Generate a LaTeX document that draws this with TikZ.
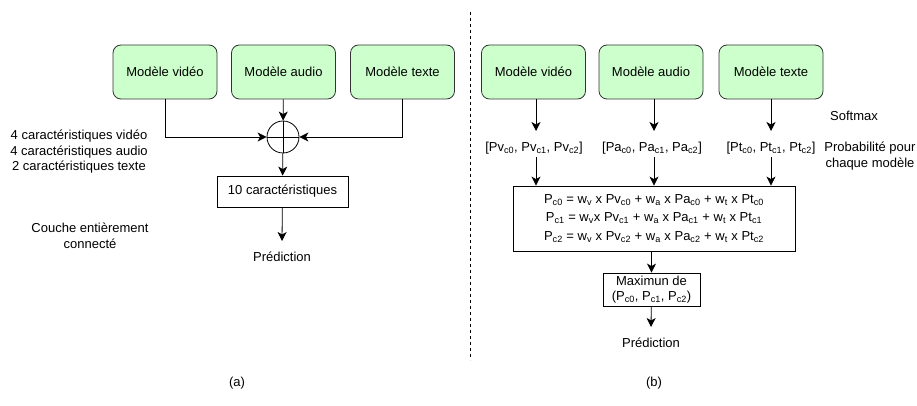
\documentclass[tikz,border=0pt]{standalone}
\usepackage{fontspec}
\setmainfont{Liberation Sans}
\usetikzlibrary{arrows.meta,positioning}
\definecolor{boxgreen}{HTML}{CCFFCC}
\tikzset{
  every node/.style={font=\fontsize{13}{15.5}\selectfont, inner sep=0pt},
  model/.style={draw=black!80, fill=boxgreen, rounded corners=8pt, minimum width=104pt, minimum height=54pt, line width=0.8pt},
  plainbox/.style={draw=black, line width=0.8pt},
  arr/.style={-{Stealth[length=9pt,width=9pt,inset=2.5pt]}, line width=0.8pt},
  ln/.style={line width=0.8pt},
}
\begin{document}
\begin{tikzpicture}[x=1pt,y=-1pt]
\useasboundingbox (0,0) rectangle (917,406);
% left panel
\node[model] (lv) at (165,72) {Modèle vidéo};
\node[model] (la) at (283.5,72) {Modèle audio};
\node[model] (lt) at (402.5,72) {Modèle texte};
\node[draw, circle, ln, minimum size=32pt] (sum) at (283,137) {};
\draw[ln] (sum.north) -- (sum.south) (sum.west) -- (sum.east);
\node[plainbox, minimum width=131pt, minimum height=31pt] (feat) at (282.5,191.5) {10 caractéristiques};
\node (lpred) at (282,257) {Prédiction};
\coordinate (lpend) at (282,241);
\draw[arr] (la) -- (sum);
\draw[arr] (lv.south) |- (sum.west);
\draw[arr] (lt.south) |- (sum.east);
\draw[arr] (sum) -- (feat);
\draw[arr] (feat) -- (lpend);
\node[align=center] (lfeat) at (79,152) {4 caractéristiques vidéo\\4 caractéristiques audio\\2 caractéristiques texte};
\node[align=center] (lfc) at (90,236) {Couche entièrement\\connecté};
% divider
\coordinate (dtop) at (470.5,12);
\coordinate (dbot) at (470.5,360);
\draw[line width=0.8pt, dash pattern=on 3pt off 3pt] (dtop) -- (dbot);
% right panel
\node[model] (rv) at (533.5,72) {Modèle vidéo};
\node[model] (ra) at (651,72) {Modèle audio};
\node[model] (rt) at (771,72) {Modèle texte};
\node (pv) at (534,148) {[Pv\textsubscript{c0}, Pv\textsubscript{c1}, Pv\textsubscript{c2}]};
\node (pa) at (652,148) {[Pa\textsubscript{c0}, Pa\textsubscript{c1}, Pa\textsubscript{c2}]};
\node (pt) at (771,148) {[Pt\textsubscript{c0}, Pt\textsubscript{c1}, Pt\textsubscript{c2}]};
\coordinate (pvin) at (536,131);
\coordinate (pain) at (654,131);
\coordinate (ptin) at (771,131);
\draw[arr] (rv.south -| pvin) -- (pvin);
\draw[arr] (ra.south -| pain) -- (pain);
\draw[arr] (rt.south -| ptin) -- (ptin);
\node (soft) at (854,116) {Softmax};
\node[align=center] (prob) at (870,156) {Probabilité pour\\chaque modèle};
\node[plainbox, minimum width=282pt, minimum height=65pt, align=center] (eq) at (654,218.5) {%
P\textsubscript{c0} = w\textsubscript{v} x Pv\textsubscript{c0} + w\textsubscript{a} x Pa\textsubscript{c0} + w\textsubscript{t} x Pt\textsubscript{c0}\\[3pt]
P\textsubscript{c1} = w\textsubscript{v}x Pv\textsubscript{c1} + w\textsubscript{a} x Pa\textsubscript{c1} + w\textsubscript{t} x Pt\textsubscript{c1}\\[3pt]
P\textsubscript{c2} = w\textsubscript{v} x Pv\textsubscript{c2} + w\textsubscript{a} x Pa\textsubscript{c2} + w\textsubscript{t} x Pt\textsubscript{c2}};
\draw[arr] (pv.south -| pvin) ++(0,3) coordinate (pvo) -- (pvo |- eq.north);
\draw[arr] (pa.south -| pain) ++(0,3) coordinate (pao) -- (pao |- eq.north);
\draw[arr] (pt.south -| ptin) ++(0,3) coordinate (pto) -- (pto |- eq.north);
\node[plainbox, minimum width=97pt, minimum height=33pt, align=center] (mx) at (651.5,289.5) {Maximun de\\(P\textsubscript{c0}, P\textsubscript{c1}, P\textsubscript{c2})};
\draw[arr] (eq.south -| mx) -- (mx);
\node (rpred) at (651,343) {Prédiction};
\coordinate (rpend) at (651,327);
\draw[arr] (mx) -- (rpend);
% captions
\node (capa) at (237,383) {(a)};
\node (capb) at (654,383) {(b)};
\end{tikzpicture}
\end{document}
